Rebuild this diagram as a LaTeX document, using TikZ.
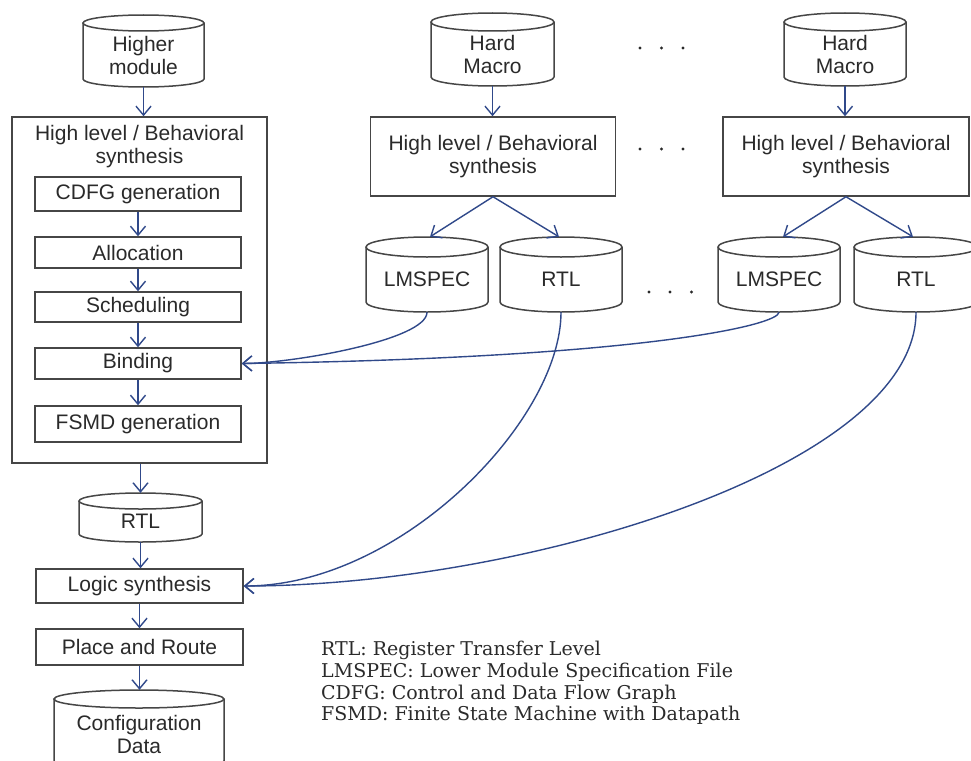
\documentclass[tikz,border=0pt]{standalone}
\usepackage{fontspec}
\setsansfont{Liberation Sans}
\newfontfamily\legendfont{DejaVu Serif}
\usetikzlibrary{arrows.meta,calc}
\definecolor{linegray}{HTML}{464646}
\definecolor{arrowblue}{HTML}{30498A}
\definecolor{txtgray}{HTML}{2A2A2A}
\tikzset{
  boxline/.style={draw=linegray, line width=1.5pt},
  stepbox/.style={boxline, rectangle, inner sep=0pt, font=\sffamily\fontsize{21}{23}\selectfont, text=txtgray, align=center},
  titletxt/.style={inner sep=0pt, font=\sffamily\fontsize{21}{23}\selectfont, text=txtgray, align=center},
  cyltxt/.style={inner sep=0pt, font=\sffamily\fontsize{21}{23}\selectfont, text=txtgray, align=center},
  cylshape/.style={inner sep=0pt, draw=none, rectangle},
  flow/.style={draw=arrowblue, line width=1.4pt, -{Straight Barb[length=9pt,width=15pt,line width=1.4pt]}},
  dotmark/.style={circle, fill=txtgray, inner sep=0pt, minimum size=3.4pt},
  legendtxt/.style={inner sep=0pt, font=\legendfont\fontsize{19}{21.7}\selectfont, text=txtgray, align=left},
}
% #1 name, #2 cx, #3 ytop, #4 ybot, #5 half width, #6 ry, #7 text
\newcommand\dbcyl[7]{%
  \pgfmathsetmacro\cylL{#2-#5}%
  \pgfmathsetmacro\cylR{#2+#5}%
  \pgfmathsetmacro\cylT{#3+#6}%
  \pgfmathsetmacro\cylB{#4-#6}%
  \pgfmathsetmacro\cylK{0.5523*#5}%
  \pgfmathsetmacro\cylKy{0.5523*#6}%
  \pgfmathsetmacro\cylW{2*#5}%
  \pgfmathsetmacro\cylH{#4-#3}%
  \pgfmathsetmacro\cylM{(#3+#4)/2}%
  \pgfmathsetmacro\cylTx{\cylM+#6/2}%
  \node[cylshape, minimum width=\cylW pt, minimum height=\cylH pt] (#1) at (#2,\cylM) {};
  \draw[boxline] (#2,\cylT) ellipse [x radius=#5pt, y radius=#6pt];
  \draw[boxline] (\cylL,\cylT) -- (\cylL,\cylB) .. controls (\cylL,\cylB+\cylKy) and (#2-\cylK,#4) .. (#2,#4) .. controls (#2+\cylK,#4) and (\cylR,\cylB+\cylKy) .. (\cylR,\cylB) -- (\cylR,\cylT);
  \node[cyltxt] (#1-t) at (#2,\cylTx) {#7};
}
\begin{document}
\begin{tikzpicture}[x=1pt, y=-1pt]
\fill[white] (0,0) rectangle (971,760);
\useasboundingbox (0,0) rectangle (971,760);

% left column
\dbcyl{hm0}{143.5}{15}{87}{60.5}{8}{Higher\\module}
\node[stepbox, minimum width=255pt, minimum height=346pt] (hls0) at (139.5,290) {};
\node[titletxt] (hls0t) at (139.5,147) {High level / Behavioral\\synthesis};
\node[stepbox, minimum width=206pt, minimum height=34pt] (cdfg) at (138,194) {CDFG generation};
\node[stepbox, minimum width=206pt, minimum height=31pt] (alloc) at (138,252.5) {Allocation};
\node[stepbox, minimum width=206pt, minimum height=30pt] (sched) at (138,307) {Scheduling};
\node[stepbox, minimum width=206pt, minimum height=31pt] (bind) at (138,363.5) {Binding};
\node[stepbox, minimum width=206pt, minimum height=36pt] (fsmd) at (138,424) {FSMD generation};
\dbcyl{rtl0}{140.5}{493}{542}{61.5}{8}{RTL}
\node[stepbox, minimum width=207pt, minimum height=34pt] (logic) at (139.5,586) {Logic synthesis};
\node[stepbox, minimum width=207pt, minimum height=36pt] (par) at (139.5,647) {Place and Route};
\dbcyl{cfg}{139}{690}{770}{85}{9}{Configuration\\Data}

% right columns
\dbcyl{hm1}{492.5}{13}{86}{61.5}{9}{Hard\\Macro}
\dbcyl{hm2}{845}{13}{86}{61}{9}{Hard\\Macro}
\node[stepbox, minimum width=245pt, minimum height=79pt] (hls1) at (493,156.5) {High level / Behavioral\\synthesis};
\node[stepbox, minimum width=246pt, minimum height=79pt] (hls2) at (846,156.5) {High level / Behavioral\\synthesis};
\dbcyl{lm1}{427}{237}{312}{61}{10}{LMSPEC}
\dbcyl{rtl1}{561}{237}{312}{61}{10}{RTL}
\dbcyl{lm2}{779}{237}{312}{61}{10}{LMSPEC}
\dbcyl{rtl2}{916}{237}{312}{62}{10}{RTL}

% dots
\node[dotmark] (d1a) at (640,48) {};
\node[dotmark] (d1b) at (661.5,48) {};
\node[dotmark] (d1c) at (683,48) {};
\node[dotmark] (d2a) at (640,149) {};
\node[dotmark] (d2b) at (661.5,149) {};
\node[dotmark] (d2c) at (683,149) {};
\node[dotmark] (d3a) at (649,292) {};
\node[dotmark] (d3b) at (670,292) {};
\node[dotmark] (d3c) at (691.5,292) {};

% arrows
\draw[flow] (hm0.south) -- (hm0.south |- hls0.north);
\draw[flow] (cdfg) -- (alloc);
\draw[flow] (alloc) -- (sched);
\draw[flow] (sched) -- (bind);
\draw[flow] (bind) -- (fsmd);
\draw[flow] (rtl0.north |- hls0.south) -- (rtl0.north);
\draw[flow] (rtl0.south) -- (rtl0.south |- logic.north);
\draw[flow] (logic) -- (par);
\draw[flow] (par.south) -- (par.south |- cfg.north);

\draw[flow] (hm1.south) -- (hm1.south |- hls1.north);
\draw[flow] (hm2.south) -- (hm2.south |- hls2.north);
\draw[flow] (hls1.south) -- ($(lm1.north)+(3,0)$);
\draw[flow] (hls1.south) -- ($(rtl1.north)+(-2,0)$);
\draw[flow] (hls2.south) -- ($(lm2.north)+(4,0)$);
\draw[flow] (hls2.south) -- ($(rtl2.north)+(-3,0)$);

\draw[flow] (lm1.south) .. controls +(0,28) and +(49,0) .. (bind.east);
\draw[flow] (lm2.south) .. controls +(0,13) and +(399,-5.5) .. (bind.east);
\draw[flow] (rtl1.south) .. controls +(0,108) and +(157,0) .. (logic.east);
\draw[flow] (rtl2.south) .. controls +(0,155) and +(280,0) .. (logic.east);

% legend
\node[legendtxt, anchor=north west] (legend) at (321,641) {RTL: Register Transfer Level\\LMSPEC: Lower Module Specification File\\CDFG: Control and Data Flow Graph\\FSMD: Finite State Machine with Datapath};
\end{tikzpicture}
\end{document}
